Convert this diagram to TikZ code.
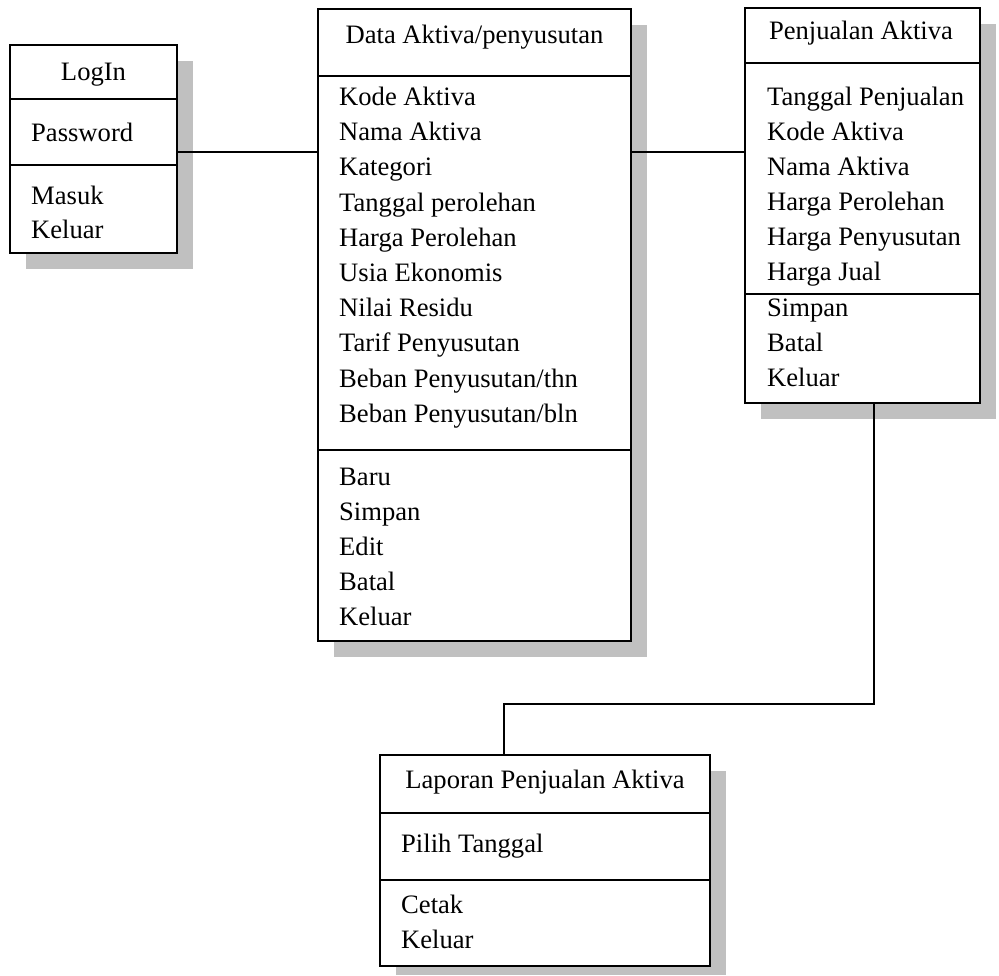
\documentclass[tikz,border=0pt]{standalone}
\usepackage{fontspec}
\setmainfont{Liberation Serif}
\definecolor{shadowgray}{RGB}{192,192,192}
\begin{document}
\begin{tikzpicture}[x=1pt,y=-1pt,
  box/.style={draw, line width=1.4pt, fill=white, inner sep=0pt},
  shade/.style={fill=shadowgray, draw=none},
  rule/.style={line width=1.4pt},
  link/.style={line width=1.3pt},
  item/.style={anchor=base west, inner sep=0pt, font=\fontsize{26.6}{32}\selectfont},
  ttl/.style={anchor=base, inner sep=0pt, font=\fontsize{26.6}{32}\selectfont}]
\useasboundingbox (0,0) rectangle (999,975);
% shadows
\fill[shade] (26,61) rectangle (193,269);
\fill[shade] (334,25) rectangle (647,657);
\fill[shade] (761,24) rectangle (996,419);
\fill[shade] (396,771) rectangle (726,975);
% boxes
\node[box, minimum width=167pt, minimum height=208pt] (login) at (93.5,149) {};
\node[box, minimum width=313pt, minimum height=632pt] (data) at (474.5,325) {};
\node[box, minimum width=235pt, minimum height=395pt] (penj) at (862.5,205.5) {};
\node[box, minimum width=330pt, minimum height=211pt] (lap) at (545,860.5) {};
% dividers
\draw[rule] (10,99) -- (177,99);
\draw[rule] (10,165) -- (177,165);
\draw[rule] (318,76) -- (631,76);
\draw[rule] (318,450) -- (631,450);
\draw[rule] (745,63) -- (980,63);
\draw[rule] (745,294) -- (980,294);
\draw[rule] (380,813) -- (710,813);
\draw[rule] (380,880) -- (710,880);
% titles
\node[ttl] (logintitle) at (93.5,80) {LogIn};
\node[ttl] (datatitle) at (474.5,43) {Data Aktiva/penyusutan};
\node[ttl] (penjtitle) at (861,39) {Penjualan Aktiva};
\node[ttl] (laptitle) at (545,788) {Laporan Penjualan Aktiva};
% LogIn items
\node[item] (l1) at (31,141) {Password};
\node[item] (l2) at (31,204) {Masuk};
\node[item] (l3) at (31,238) {Keluar};
% Data items
\foreach \t [count=\i] in {Kode Aktiva, Nama Aktiva, Kategori, Tanggal perolehan, Harga Perolehan, Usia Ekonomis, Nilai Residu, Tarif Penyusutan, Beban Penyusutan/thn, Beban Penyusutan/bln}
  \node[item] (d\i) at (339,105.5+35.2*\i-35.2) {\t};
\foreach \t [count=\i] in {Baru, Simpan, Edit, Batal, Keluar}
  \node[item] (b\i) at (339,485+35*\i-35) {\t};
% Penjualan items
\foreach \t [count=\i] in {Tanggal Penjualan, Kode Aktiva, Nama Aktiva, Harga Perolehan, Harga Penyusutan, Harga Jual}
  \node[item] (p\i) at (767,105+35*\i-35) {\t};
\foreach \t [count=\i] in {Simpan, Batal, Keluar}
  \node[item] (q\i) at (767,316+35*\i-35) {\t};
% Laporan items
\node[item] (r1) at (401,852) {Pilih Tanggal};
\node[item] (r2) at (401,913) {Cetak};
\node[item] (r3) at (401,948) {Keluar};
% connectors
\coordinate (lv) at (0,152);
\coordinate (bendA) at (874,704);
\coordinate (bendB) at (504,704);
\draw[link] (login.east |- lv) -- (data.west |- lv);
\draw[link] (data.east |- lv) -- (penj.west |- lv);
\draw[link] (penj.south -| bendA) -- (bendA) -- (bendB) -- (lap.north -| bendB);
\end{tikzpicture}
\end{document}
